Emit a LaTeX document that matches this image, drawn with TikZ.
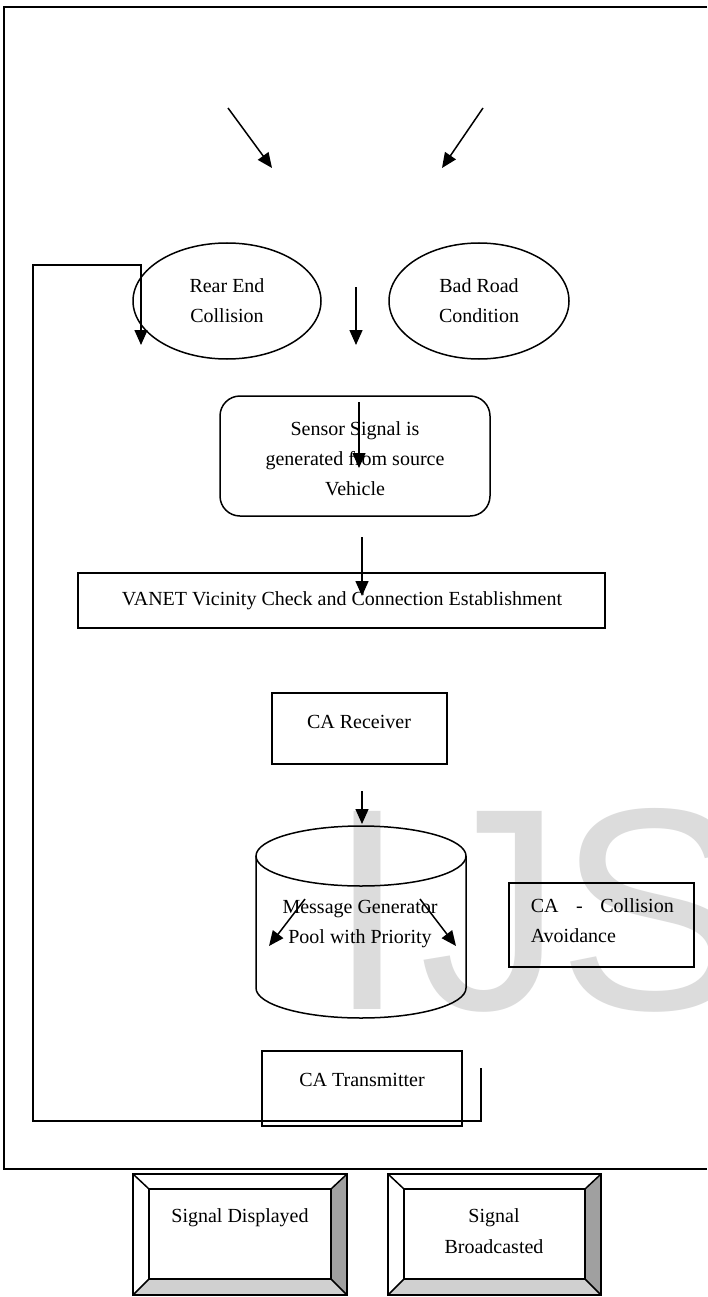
\documentclass[tikz,border=0pt]{standalone}
\usepackage{fontspec}
\setmainfont{Liberation Serif}
\newfontfamily\wmfont{Liberation Sans}
\usetikzlibrary{arrows.meta}
\definecolor{wmgray}{HTML}{DCDCDC}
\definecolor{bevdark}{HTML}{A0A0A0}
\definecolor{bevlight}{HTML}{D0D0D0}
\begin{document}
\begin{tikzpicture}[x=1pt,y=-1pt,
  line width=1.5pt,
  txt/.style={font=\fontsize{20}{30}\selectfont, align=center, inner sep=0pt},
  arr/.style={-{Triangle[length=15pt,width=13pt]}},
]
\useasboundingbox (0,0) rectangle (707,1297);
\fill[white] (0,0) rectangle (707,1297);
% watermark
\node[anchor=base west, inner sep=0pt, text=wmgray, font=\wmfont\fontsize{288}{288}\selectfont] (wm) at (327,1009) {I\kern12pt J\kern-6pt S};
% outer frame
\draw[line width=1.8pt] (707,7) -- (4,7) -- (4,1169) -- (707,1169);
% top arrows
\coordinate (a1s) at (228,108); \coordinate (a1e) at (272,168);
\coordinate (a2s) at (483,108); \coordinate (a2e) at (442,168);
\draw[arr] (a1s) -- (a1e);
\draw[arr] (a2s) -- (a2e);
% ellipses
\draw (227,301) ellipse [x radius=94, y radius=58];
\node[txt] (rear) at (227,301) {Rear End\\Collision};
\draw (479,301) ellipse [x radius=90, y radius=58];
\node[txt] (bad) at (479,301) {Bad Road\\Condition};
% middle arrow
\coordinate (m1s) at (356,287); \coordinate (m1e) at (356,345);
\draw[arr] (m1s) -- (m1e);
% sensor box
\draw[rounded corners=20pt] (220,396) rectangle (490,516);
\node[txt] (sensor) at (355,459) {Sensor Signal is\\generated from source\\Vehicle};
\coordinate (m2s) at (359,402); \coordinate (m2e) at (359,468);
\draw[arr] (m2s) -- (m2e);
% VANET box
\draw (78,573) rectangle (605,628);
\node[txt] (vanet) at (342,601) {VANET Vicinity Check and Connection Establishment};
\coordinate (m3s) at (362,537); \coordinate (m3e) at (362,596);
\draw[arr] (m3s) -- (m3e);
% CA receiver
\draw (272,693) rectangle (447,764);
\node[txt] (rcv) at (359,722) {CA Receiver};
\coordinate (m4s) at (362,791); \coordinate (m4e) at (362,824);
\draw[arr] (m4s) -- (m4e);
% cylinder
\draw (361,856) ellipse [x radius=105, y radius=30];
\draw (256,856) -- (256,988) arc[start angle=180, end angle=360, x radius=105, y radius=-30] -- (466,856);
\node[txt] (pool) at (360,924) {Message Generator\\Pool with Priority};
\coordinate (c1s) at (305,899); \coordinate (c1e) at (269,946);
\coordinate (c2s) at (420,899); \coordinate (c2e) at (456,946);
\draw[arr] (c1s) -- (c1e);
\draw[arr] (c2s) -- (c2e);
% CA collision avoidance
\draw (509,883) rectangle (694,967);
\node[txt, anchor=north west, text width=143pt, align=justify] (caav) at (530,898) {CA - Collision Avoidance};
% CA transmitter
\draw (262,1051) rectangle (462,1126);
\node[txt] (tx) at (362,1080) {CA Transmitter};
% feedback loop
\coordinate (f0) at (481,1068);
\coordinate (f1) at (141,345);
\draw[arr] (f0) -- (481,1121) -- (33,1121) -- (33,265) -- (141,265) -- (f1);
% bevel boxes
\foreach \ox/\oy/\OX/\OY/\ix/\iy/\IX/\IY in {133/1174/347/1295/149/1189/331/1279, 388/1174/601/1295/404/1189/585/1279}{
  \fill[bevdark] (\OX,\oy) -- (\OX,\OY) -- (\IX,\IY) -- (\IX,\iy) -- cycle;
  \fill[bevlight] (\ox,\OY) -- (\OX,\OY) -- (\IX,\IY) -- (\ix,\IY) -- cycle;
  \draw (\ox,\oy) rectangle (\OX,\OY);
  \draw (\ix,\iy) rectangle (\IX,\IY);
  \draw (\ox,\oy) -- (\ix,\iy) (\OX,\oy) -- (\IX,\iy) (\ox,\OY) -- (\ix,\IY) (\OX,\OY) -- (\IX,\IY);
}
\node[txt, anchor=base] (disp) at (240,1222) {Signal Displayed};
\node[txt, anchor=base] (bc1) at (494,1222) {Signal};
\node[txt, anchor=base] (bc2) at (494,1253) {Broadcasted};
\end{tikzpicture}
\end{document}
